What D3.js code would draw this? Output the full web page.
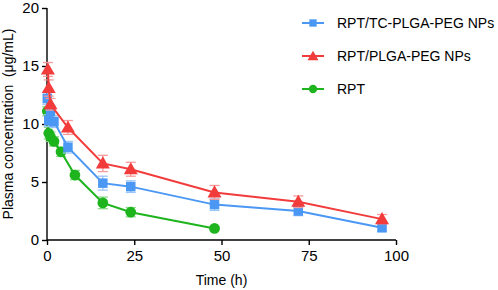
<!DOCTYPE html>
<html>
<head>
<meta charset="utf-8">
<script src="https://cdn.jsdelivr.net/npm/d3@7"></script>
<style>
  html, body { margin: 0; padding: 0; background: #fff; }
  svg { display: block; font-family: "Liberation Sans", Arial, sans-serif; }
</style>
</head>
<body>
<svg id="chart" width="498" height="290"></svg>
<script>
// series: [time (h), mean, sd]
const seriesNames = ["RPT/TC-PLGA-PEG NPs", "RPT/PLGA-PEG NPs", "RPT"];
const tcNps = [
  [0.083, 12.2, 0.5], [0.5, 10.3, 0.5], [1, 11.1, 0.5], [2, 10.2, 0.5],
  [6, 8.0, 0.5], [16, 4.9, 0.6], [24, 4.6, 0.5], [48, 3.05, 0.5],
  [72, 2.5, 0.4], [96, 1.05, 0.3]
];
const plgaNps = [
  [0.25, 14.7, 0.6], [0.5, 13.1, 0.7], [1, 11.7, 0.5], [6, 9.7, 0.6],
  [16, 6.6, 0.7], [24, 6.1, 0.6], [48, 4.1, 0.6], [72, 3.3, 0.5],
  [96, 1.8, 0.4]
];
const rpt = [
  [0.083, 11.1, 0.4], [0.5, 9.2, 0.5], [1, 8.9, 0.4], [2, 8.5, 0.4],
  [4, 7.6, 0.4], [8, 5.6, 0.4], [16, 3.2, 0.5], [24, 2.4, 0.4],
  [48, 1.0, 0.1]
];
const xTicks = [0, 25, 50, 75, 100];
const yTicks = [0, 5, 10, 15, 20];

const colors = ["#4a98f4", "#f23c3c", "#1db41d"];
const barColors = ["#9cc6f7", "#f79a9a", "#8ad88a"];
const shapes = [d3.symbolSquare, d3.symbolTriangle, d3.symbolCircle];
const shapeSize = [90, 85, 90];

const svg = d3.select("#chart");
const margin = { top: 8, right: 102, bottom: 50, left: 47 };
const W = 498, H = 290;

const x = d3.scaleLinear().domain([0, 100]).range([margin.left, W - margin.right]);
const y = d3.scaleLinear().domain([0, 20]).range([H - margin.bottom, margin.top]);

// axes
const xAxis = svg.append("g")
  .attr("transform", `translate(0,${H - margin.bottom})`)
  .call(d3.axisBottom(x).tickValues(xTicks).tickSize(5).tickPadding(5));
const yAxis = svg.append("g")
  .attr("transform", `translate(${margin.left},0)`)
  .call(d3.axisLeft(y).tickValues(yTicks).tickSize(5).tickPadding(3));

[xAxis, yAxis].forEach(a => {
  a.select(".domain").attr("stroke", "#000").attr("stroke-width", 1.4);
  a.selectAll(".tick line").attr("stroke", "#000").attr("stroke-width", 1.4);
  a.selectAll("text")
    .attr("fill", "#000")
    .style("font-size", "15px")
    .style("font-family", "Liberation Sans, Arial, sans-serif");
});
// no outer ticks on the axis lines
xAxis.select(".domain").attr("d", `M${x(0)},0H${x(100)}`);
yAxis.select(".domain").attr("d", `M0,${y(0)}V${y(20)}`);

svg.append("text")
  .attr("x", (x(0) + x(100)) / 2)
  .attr("y", 285)
  .attr("text-anchor", "middle")
  .style("font-size", "14px")
  .text("Time (h)");

svg.append("text")
  .attr("transform", `translate(13,${(y(0) + y(20)) / 2}) rotate(-90)`)
  .attr("text-anchor", "middle")
  .style("font-size", "14px")
  .attr("xml:space", "preserve")
  .text("Plasma concentration  (\u03bcg/mL)");

// draw series: RPT first so red sits on top
const allSeries = [tcNps, plgaNps, rpt];
const drawOrder = [2, 0, 1];

drawOrder.forEach(i => {
  const data = allSeries[i];
  const g = svg.append("g");

  // error bars
  data.forEach(([t, m, sd]) => {
    const eb = g.append("g").attr("stroke", barColors[i]).attr("stroke-width", 1.3);
    eb.append("line").attr("x1", x(t)).attr("x2", x(t)).attr("y1", y(m - sd)).attr("y2", y(m + sd));
    eb.append("line").attr("x1", x(t) - 5).attr("x2", x(t) + 5).attr("y1", y(m - sd)).attr("y2", y(m - sd));
    eb.append("line").attr("x1", x(t) - 5).attr("x2", x(t) + 5).attr("y1", y(m + sd)).attr("y2", y(m + sd));
  });

  g.append("path")
    .datum(data)
    .attr("fill", "none")
    .attr("stroke", colors[i])
    .attr("stroke-width", 2)
    .attr("d", d3.line().x(d => x(d[0])).y(d => y(d[1])));

  g.selectAll("path.pt")
    .data(data)
    .enter()
    .append("path")
    .attr("class", "pt")
    .attr("transform", d => `translate(${x(d[0])},${y(d[1]) + (i === 1 ? 1 : 0)})`)
    .attr("d", d3.symbol().type(shapes[i]).size(shapeSize[i]))
    .attr("fill", colors[i]);
});

// legend
const legend = svg.append("g").attr("transform", "translate(302,0)");
const legendY = [23, 56, 89];
seriesNames.forEach((name, i) => {
  const row = legend.append("g").attr("transform", `translate(0,${legendY[i]})`);
  row.append("line").attr("x1", 0).attr("x2", 22).attr("stroke", colors[i]).attr("stroke-width", 2);
  row.append("path")
    .attr("transform", `translate(11,${i === 1 ? 1 : 0})`)
    .attr("d", d3.symbol().type(shapes[i]).size(shapeSize[i] * 0.6))
    .attr("fill", colors[i]);
  row.append("text")
    .attr("x", 35)
    .attr("dy", "0.35em")
    .style("font-size", "14px")
    .text(name);
});
</script>
</body>
</html>
